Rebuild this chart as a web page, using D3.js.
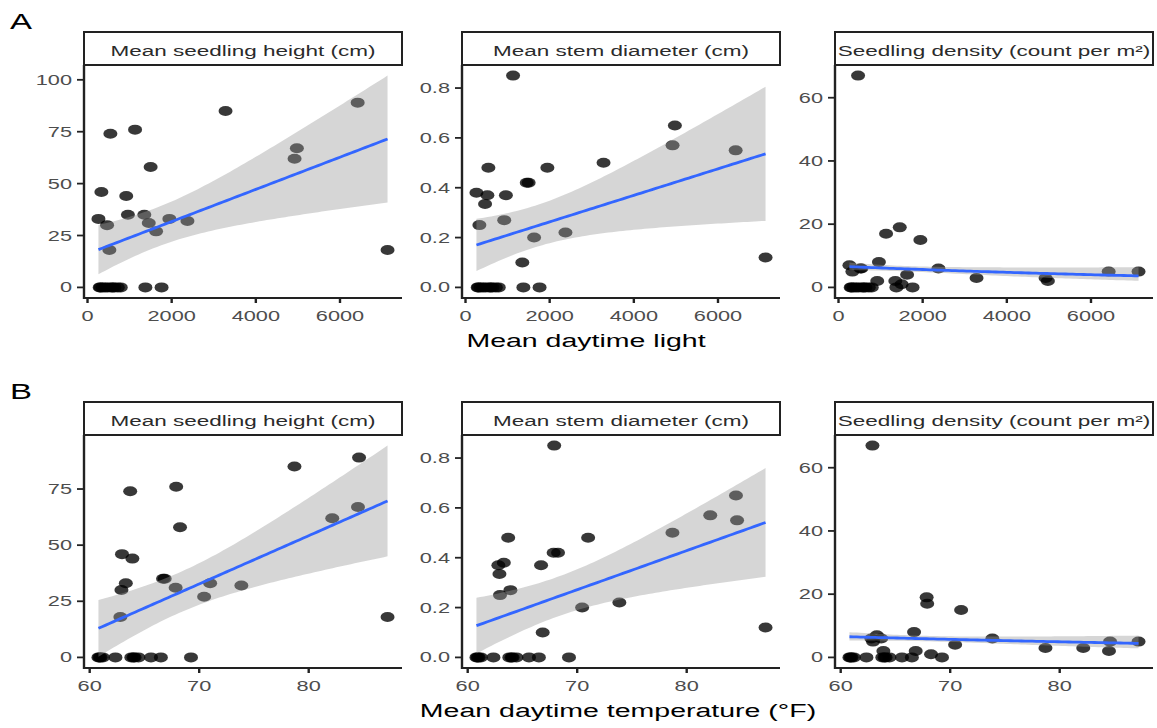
<!DOCTYPE html>
<html>
<head>
<meta charset="utf-8">
<script src="https://cdn.jsdelivr.net/npm/d3@7"></script>
<style>
  body { margin: 0; background: #fff; }
  svg { display: block; }
</style>
</head>
<body>
<svg id="chart" width="1157" height="728"></svg>
<script>
// ---- Site measurements (one entry per site) ----
const siteLight = [3280, 6420, 4975, 4920, 7130, 543, 1130, 1500, 330, 920,
                   260, 465, 960, 1350, 1455, 1630, 1945, 2375, 520,
                   290, 310, 360, 420, 480, 560, 600, 640, 720, 790, 1375, 1760];
const siteTemp = [78.7, 84.6, 84.5, 82.15, 87.2, 63.7, 67.9, 68.25, 62.95, 63.9,
                  63.3, 62.9, 66.7, 66.85, 67.85, 70.45, 71.0, 73.85, 62.8,
                  60.8, 60.9, 61.0, 61.2, 62.35, 63.8, 64.0, 64.1, 64.45, 65.6, 66.5, 69.25];
const seedlingHeight = [85, 89, 67, 62, 18, 74, 76, 58, 46, 44,
                        33, 30, 35, 35, 31, 27, 33, 32, 18,
                        0, 0, 0, 0, 0, 0, 0, 0, 0, 0, 0, 0];
const stemDiameter = [0.50, 0.55, 0.65, 0.57, 0.12, 0.48, 0.85, 0.42, 0.25, 0.27,
                      0.38, 0.335, 0.37, 0.10, 0.42, 0.20, 0.48, 0.22, 0.37,
                      0, 0, 0, 0, 0, 0, 0, 0, 0, 0, 0, 0];
const seedlingDensity = [3, 5, 2, 3, 5, 6, 17, 1, 5, 2,
                         7, 67, 8, 2, 19, 4, 15, 6, 6,
                         0, 0, 0, 0, 0, 0, 0, 0, 0, 0, 0, 0];

// ---- Labels and tick values ----
const responseTitles = ["Mean seedling height (cm)", "Mean stem diameter (cm)", "Seedling density (count per m\u00B2)"];
const rowTags = ["A", "B"];
const rowTitles = ["Mean daytime light", "Mean daytime temperature (\u00B0F)"];
const lightTicks = [0, 2000, 4000, 6000];
const tempTicks = [60, 70, 80];
const heightTicks = [0, 25, 50, 75, 100];
const diameterTicks = [0, 0.2, 0.4, 0.6, 0.8];
const densityTicks = [0, 20, 40, 60];

// ---- Layout ----
const FONT = "'Liberation Sans', Arial, Helvetica, sans-serif";
const SX = 1.5;                 // horizontal stretch of all lettering
const panelLefts = [84, 462, 835];
const panelWidth = 318;
const stripHeight = 33;
const INK = "#222";

const svg = d3.select("#chart");

function label(g, x, y, str, o) {
  return g.append("text")
    .attr("transform", `translate(${x},${y}) scale(${SX},1)`)
    .attr("text-anchor", o.anchor || "start")
    .attr("font-family", FONT)
    .attr("font-size", o.size)
    .attr("font-weight", o.weight || "normal")
    .attr("fill", o.fill || "#000")
    .text(str);
}

// Student t quantile (Cornish-Fisher expansion around the normal quantile)
function tQuantile975(df) {
  const z = 1.959964;
  const z3 = z ** 3, z5 = z ** 5, z7 = z ** 7;
  return z + (z3 + z) / (4 * df)
           + (5 * z5 + 16 * z3 + 3 * z) / (96 * df * df)
           + (3 * z7 + 19 * z5 + 17 * z3 - 15 * z) / (384 * df ** 3);
}

// Ordinary least squares with 95% confidence band
function fitLinear(xs, ys) {
  const n = xs.length;
  const mx = d3.mean(xs), my = d3.mean(ys);
  let sxx = 0, sxy = 0;
  for (let i = 0; i < n; i++) {
    sxx += (xs[i] - mx) ** 2;
    sxy += (xs[i] - mx) * (ys[i] - my);
  }
  const b = sxy / sxx, a = my - b * mx;
  let sse = 0;
  for (let i = 0; i < n; i++) sse += (ys[i] - a - b * xs[i]) ** 2;
  const s = Math.sqrt(sse / (n - 2));
  const tq = tQuantile975(n - 2);
  return x => {
    const fit = a + b * x;
    const se = s * Math.sqrt(1 / n + (x - mx) ** 2 / sxx);
    return { x, fit, lo: fit - tq * se, hi: fit + tq * se };
  };
}

// Poisson regression (log link) fitted by IRLS, band on the link scale
function fitPoisson(xs, ys) {
  const n = xs.length;
  const mx = d3.mean(xs), sdx = d3.deviation(xs);
  const xc = xs.map(v => (v - mx) / sdx);
  let b0 = Math.log(d3.mean(ys)), b1 = 0;
  let S0, S1, S2;
  for (let it = 0; it < 60; it++) {
    S0 = 0; S1 = 0; S2 = 0;
    let T0 = 0, T1 = 0;
    for (let i = 0; i < n; i++) {
      const eta = b0 + b1 * xc[i];
      const mu = Math.exp(eta);
      const z = eta + (ys[i] - mu) / mu;
      S0 += mu; S1 += mu * xc[i]; S2 += mu * xc[i] * xc[i];
      T0 += mu * z; T1 += mu * xc[i] * z;
    }
    const det = S0 * S2 - S1 * S1;
    b0 = (S2 * T0 - S1 * T1) / det;
    b1 = (S0 * T1 - S1 * T0) / det;
  }
  S0 = 0; S1 = 0; S2 = 0;
  for (let i = 0; i < n; i++) {
    const mu = Math.exp(b0 + b1 * xc[i]);
    S0 += mu; S1 += mu * xc[i]; S2 += mu * xc[i] * xc[i];
  }
  const det = S0 * S2 - S1 * S1;
  const v00 = S2 / det, v01 = -S1 / det, v11 = S0 / det;
  const zq = 1.959964;
  return x => {
    const c = (x - mx) / sdx;
    const eta = b0 + b1 * c;
    const se = Math.sqrt(v00 + 2 * c * v01 + c * c * v11);
    return { x, fit: Math.exp(eta), lo: Math.exp(eta - zq * se), hi: Math.exp(eta + zq * se) };
  };
}

const rows = [
  { xs: siteLight, ticks: lightTicks, fmt: d3.format("d"), stripTop: 32, plotBottom: 298, tagBase: 29, titleX: 586, titleBase: 346.5 },
  { xs: siteTemp, ticks: tempTicks, fmt: d3.format("d"), stripTop: 402, plotBottom: 668, tagBase: 398.5, titleX: 618, titleBase: 716.5 }
];
const responses = [
  { ys: seedlingHeight, ticks: heightTicks, fmt: d3.format("d"), fit: fitLinear },
  { ys: stemDiameter, ticks: diameterTicks, fmt: d3.format(".1f"), fit: fitLinear },
  { ys: seedlingDensity, ticks: densityTicks, fmt: d3.format("d"), fit: fitPoisson }
];

rows.forEach((row, r) => {
  const plotTop = row.stripTop + stripHeight;
  const xExt = d3.extent(row.xs);
  const xPad = (xExt[1] - xExt[0]) * 0.05;
  const grid = d3.range(80).map(i => xExt[0] + i * (xExt[1] - xExt[0]) / 79);

  responses.forEach((resp, c) => {
    const left = panelLefts[c];
    const g = svg.append("g");
    const x = d3.scaleLinear()
      .domain([xExt[0] - xPad, xExt[1] + xPad])
      .range([left, left + panelWidth]);

    const predict = resp.fit(row.xs, resp.ys);
    const band = grid.map(predict);
    const yLo = Math.min(d3.min(resp.ys), d3.min(band, d => d.lo));
    const yHi = Math.max(d3.max(resp.ys), d3.max(band, d => d.hi));
    const yPad = (yHi - yLo) * 0.05;
    const y = d3.scaleLinear()
      .domain([yLo - yPad, yHi + yPad])
      .range([row.plotBottom, plotTop]);

    // points
    g.append("g").selectAll("ellipse")
      .data(row.xs.map((v, i) => [v, resp.ys[i]]))
      .join("ellipse")
      .attr("cx", d => x(d[0]))
      .attr("cy", d => y(d[1]))
      .attr("rx", 7)
      .attr("ry", 5)
      .attr("fill", "#000")
      .attr("fill-opacity", 0.78);

    // confidence ribbon and fitted line
    g.append("path")
      .datum(band)
      .attr("d", d3.area().x(d => x(d.x)).y0(d => y(d.lo)).y1(d => y(d.hi)))
      .attr("fill", "#999999")
      .attr("fill-opacity", 0.4);
    g.append("path")
      .datum(band)
      .attr("d", d3.line().x(d => x(d.x)).y(d => y(d.fit)))
      .attr("fill", "none")
      .attr("stroke", "#3366FF")
      .attr("stroke-width", 2.8);

    // axes
    g.append("line")
      .attr("x1", left).attr("x2", left)
      .attr("y1", plotTop).attr("y2", row.plotBottom + 1)
      .attr("stroke", INK).attr("stroke-width", 2.4);
    g.append("line")
      .attr("x1", left - 1).attr("x2", left + panelWidth)
      .attr("y1", row.plotBottom).attr("y2", row.plotBottom)
      .attr("stroke", INK).attr("stroke-width", 1.8);

    const yDom = y.domain();
    resp.ticks.filter(t => t >= yDom[0] && t <= yDom[1]).forEach(t => {
      g.append("line")
        .attr("x1", left - 7).attr("x2", left)
        .attr("y1", y(t)).attr("y2", y(t))
        .attr("stroke", INK).attr("stroke-width", 1.8);
      label(g, left - 12, y(t) + 5, resp.fmt(t), { size: 14.5, anchor: "end", fill: "#4d4d4d" });
    });
    const xDom = x.domain();
    row.ticks.filter(t => t >= xDom[0] && t <= xDom[1]).forEach(t => {
      g.append("line")
        .attr("x1", x(t)).attr("x2", x(t))
        .attr("y1", row.plotBottom).attr("y2", row.plotBottom + 5)
        .attr("stroke", INK).attr("stroke-width", 2.4);
      label(g, x(t), row.plotBottom + 23, row.fmt(t), { size: 14.5, anchor: "middle", fill: "#4d4d4d" });
    });

    // facet strip
    g.append("rect")
      .attr("x", left).attr("y", row.stripTop)
      .attr("width", panelWidth).attr("height", stripHeight)
      .attr("fill", "#fff").attr("stroke", INK).attr("stroke-width", 2);
    label(g, left + panelWidth / 2, row.stripTop + 24, responseTitles[c], { size: 15, anchor: "middle", fill: "#2b2b2b" });
  });

  label(svg, 10, row.tagBase, rowTags[r], { size: 22 });
  label(svg, row.titleX, row.titleBase, rowTitles[r], { size: 19, anchor: "middle" });
});
</script>
</body>
</html>
